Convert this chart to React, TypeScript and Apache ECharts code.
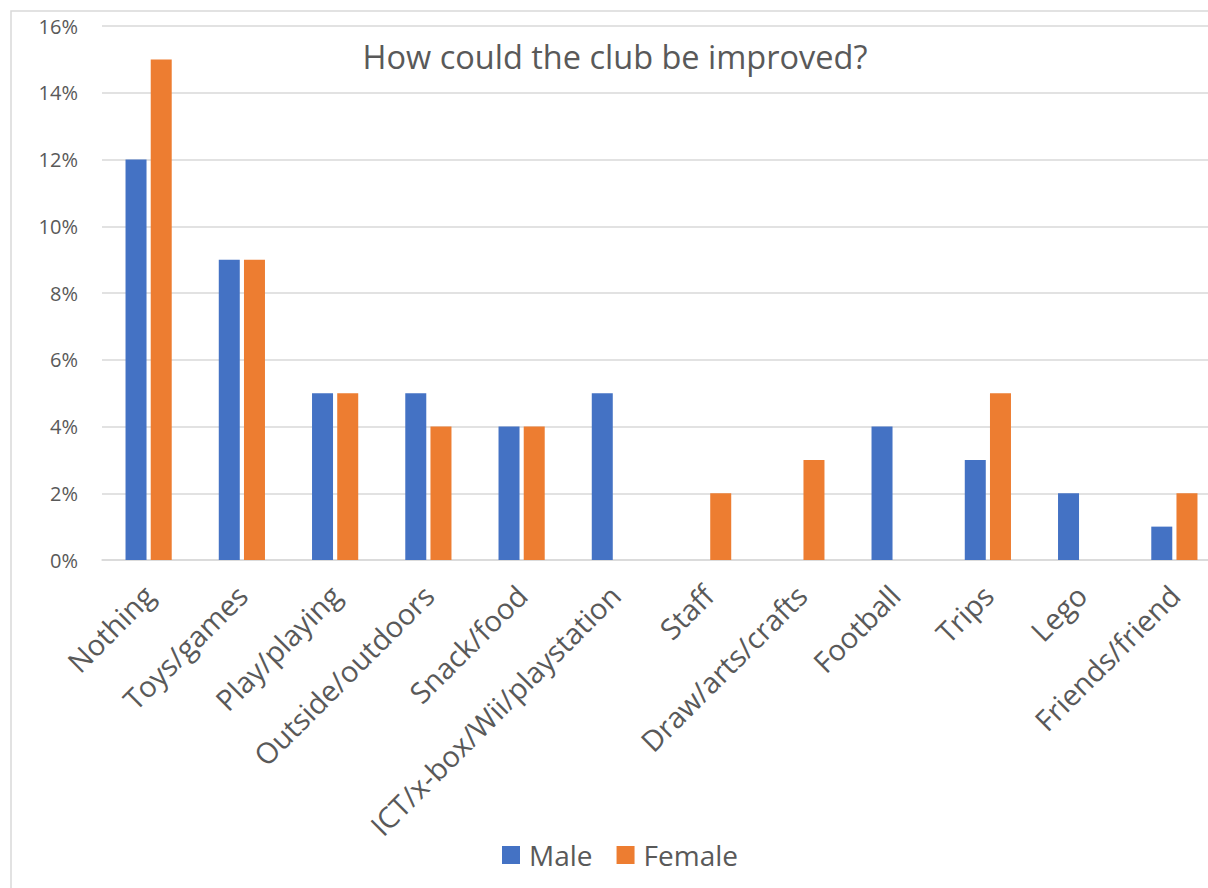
import React, { useEffect, useRef } from "react";
import * as echarts from "echarts";

const categories = [
  "Nothing",
  "Toys/games",
  "Play/playing",
  "Outside/outdoors",
  "Snack/food",
  "ICT/x-box/Wii/playstation",
  "Staff",
  "Draw/arts/crafts",
  "Football",
  "Trips",
  "Lego",
  "Friends/friend",
];
const maleValues = [0.12, 0.09, 0.05, 0.05, 0.04, 0.05, 0, 0, 0.04, 0.03, 0.02, 0.01];
const femaleValues = [0.15, 0.09, 0.05, 0.04, 0.04, 0, 0.02, 0.03, 0, 0.05, 0, 0.02];
const titleText = "How could the club be improved?";
const seriesNames = ["Male", "Female"];

const FONT = "'Open Sans', sans-serif";
const TEXT = "#595959";
const GRID = "#d9d9d9";

export default function App() {
  const ref = useRef<HTMLDivElement>(null);
  useEffect(() => {
    if (!ref.current) return;
    const chart = echarts.init(ref.current, null, { renderer: "svg" });
    chart.setOption({
      animation: false,
      backgroundColor: "#fff",
      textStyle: { fontFamily: FONT },
      graphic: [
        {
          type: "rect",
          shape: { x: 11, y: 11, width: 1300, height: 1000 },
          style: { fill: "none", stroke: GRID, lineWidth: 1.5 },
          silent: true,
          z: -1,
        },
        {
          type: "text",
          x: 615,
          y: 56,
          style: {
            text: titleText,
            fontFamily: FONT,
            fontSize: 32.5,
            fill: TEXT,
            textAlign: "center",
            textVerticalAlign: "middle",
          },
        },
      ],
      legend: {
        data: seriesNames,
        top: 836,
        left: "center",
        itemWidth: 18,
        itemHeight: 18,
        itemGap: 24,
        icon: "rect",
        textStyle: { fontFamily: FONT, fontSize: 28, color: TEXT, padding: [0, 0, 0, 4] },
      },
      grid: { left: 102, right: 19, top: 26, bottom: 340, containLabel: false },
      xAxis: {
        type: "category",
        data: categories,
        axisLine: { lineStyle: { color: GRID, width: 1.5 } },
        axisTick: { show: false },
        axisLabel: {
          interval: 0,
          rotate: 45,
          margin: 30,
          fontFamily: FONT,
          fontSize: 29,
          color: TEXT,
        },
      },
      yAxis: {
        type: "value",
        min: 0,
        max: 0.16,
        interval: 0.02,
        axisLine: { show: false },
        axisTick: { show: false },
        splitLine: { lineStyle: { color: GRID, width: 1.5 } },
        axisLabel: {
          margin: 24,
          fontFamily: FONT,
          fontSize: 20,
          color: TEXT,
          formatter: (v: number) => `${Math.round(v * 100)}%`,
        },
      },
      series: [
        {
          name: seriesNames[0],
          type: "bar",
          data: maleValues,
          barWidth: 21,
          barGap: "20%",
          itemStyle: { color: "#4472C4" },
        },
        {
          name: seriesNames[1],
          type: "bar",
          data: femaleValues,
          barWidth: 21,
          barGap: "20%",
          itemStyle: { color: "#ED7D31" },
        },
      ],
    });
    return () => chart.dispose();
  }, []);
  return (
    <div
      style={{
        position: "fixed",
        left: 0,
        top: 0,
        width: 1208,
        height: 888,
        overflow: "hidden",
        background: "#fff",
      }}
    >
      <div ref={ref} style={{ width: 1240, height: 900 }} />
    </div>
  );
}
